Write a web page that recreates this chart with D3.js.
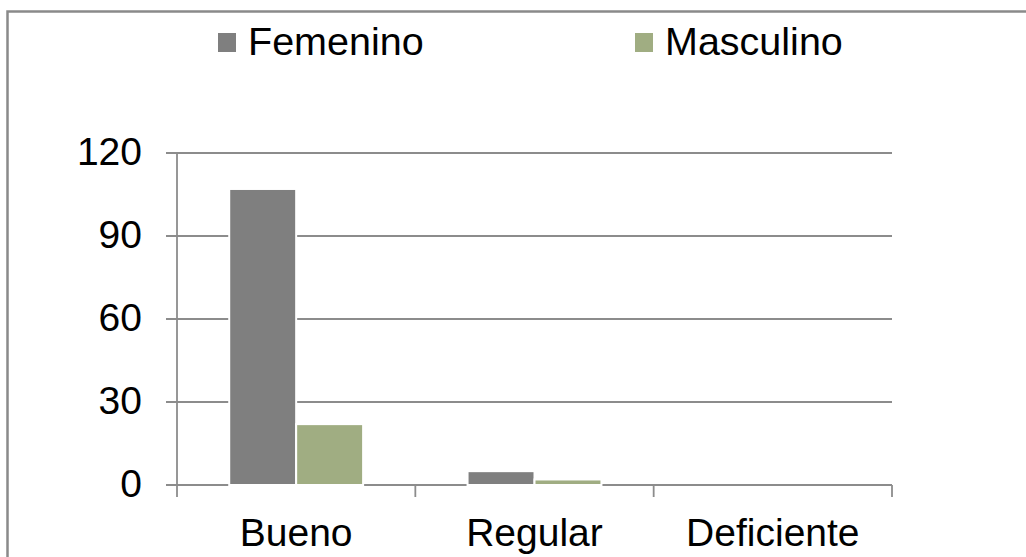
<!DOCTYPE html>
<html>
<head>
<meta charset="utf-8">
<script src="https://cdn.jsdelivr.net/npm/d3@7"></script>
<style>
  body { margin: 0; background: #fff; }
  text { font-family: "Liberation Sans", Arial, sans-serif; fill: #000; }
</style>
</head>
<body>
<div id="chart"></div>
<script>
let w = 1026
let h = 557

// data
let CATEGORIES = ["Bueno", "Regular", "Deficiente"]
let SERIES = ["Femenino", "Masculino"]
let FEMENINO = [107, 5, 0]
let MASCULINO = [22, 2, 0]
let Y_TICKS = [0, 30, 60, 90, 120]
let COLORS = ["#7f7f7f", "#a0ad82"]

let values = [FEMENINO, MASCULINO]
let data = CATEGORIES.map((c, i) => ({
  cat: c,
  vals: SERIES.map((s, j) => ({ s: s, v: values[j][i], color: COLORS[j] }))
}))

let plotLeft = 177, plotRight = 892, plotTop = 153, plotBottom = 485
let tickLen = 11

let svg = d3.select("#chart")
  .append("svg")
  .attr("width", w)
  .attr("height", h)

// frame
svg.append("rect")
  .attr("x", 7.5)
  .attr("y", 11.5)
  .attr("width", w + 20)
  .attr("height", h + 20)
  .attr("fill", "none")
  .attr("stroke", "#8a8a8a")
  .attr("stroke-width", 2.5)

let x = d3.scaleBand()
  .domain(CATEGORIES)
  .range([plotLeft, plotRight])

let xSub = d3.scaleBand()
  .domain(SERIES)
  .range([0, x.bandwidth()])
  .paddingInner(0)
  .paddingOuter(0.78)

let y = d3.scaleLinear()
  .domain([0, 120])
  .range([plotBottom, plotTop])

// gridlines
svg.append("g")
  .selectAll("line")
  .data(Y_TICKS)
  .enter()
  .append("line")
  .attr("x1", plotLeft - tickLen)
  .attr("x2", plotRight)
  .attr("y1", d => y(d))
  .attr("y2", d => y(d))
  .attr("stroke", "#8c8c8c")
  .attr("stroke-width", 1.8)

// y axis line
svg.append("line")
  .attr("x1", plotLeft).attr("x2", plotLeft)
  .attr("y1", y(120)).attr("y2", y(0) + 12)
  .attr("stroke", "#8c8c8c")
  .attr("stroke-width", 1.8)

// x ticks at category boundaries
let bounds = CATEGORIES.map(c => x(c)).concat([x.range()[1]])
svg.append("g")
  .selectAll("line")
  .data(bounds.slice(1))
  .enter()
  .append("line")
  .attr("x1", d => d).attr("x2", d => d)
  .attr("y1", y(0)).attr("y2", y(0) + 12)
  .attr("stroke", "#8c8c8c")
  .attr("stroke-width", 1.8)

// bars
let groups = svg.append("g")
  .selectAll("g")
  .data(data)
  .enter()
  .append("g")
  .attr("transform", d => "translate(" + x(d.cat) + ",0)")

groups.selectAll("rect")
  .data(d => d.vals.filter(v => v.v > 0))
  .enter()
  .append("rect")
  .attr("x", d => xSub(d.s))
  .attr("y", d => y(d.v))
  .attr("width", xSub.bandwidth())
  .attr("height", d => y(0) - y(d.v))
  .attr("fill", d => d.color)
  .attr("stroke", "#fff")
  .attr("stroke-width", 2)

// y labels
svg.append("g")
  .selectAll("text")
  .data(Y_TICKS)
  .enter()
  .append("text")
  .attr("x", 142)
  .attr("y", d => y(d))
  .attr("dy", "0.3em")
  .attr("text-anchor", "end")
  .style("font-size", "39px")
  .text(d => d)

// x labels
svg.append("g")
  .selectAll("text")
  .data(CATEGORIES)
  .enter()
  .append("text")
  .attr("x", d => x(d) + x.bandwidth() / 2)
  .attr("y", 546)
  .attr("text-anchor", "middle")
  .style("font-size", "39px")
  .text(d => d)

// legend
let legendX = [218, 635]
let legend = svg.append("g")
  .selectAll("g")
  .data(SERIES)
  .enter()
  .append("g")
  .attr("transform", (d, i) => "translate(" + legendX[i] + ",0)")

legend.append("rect")
  .attr("x", 0).attr("y", 33)
  .attr("width", 18).attr("height", 19)
  .attr("fill", (d, i) => COLORS[i])

legend.append("text")
  .attr("x", 30)
  .attr("y", 55)
  .style("font-size", "39.5px")
  .text(d => d)
</script>
</body>
</html>
